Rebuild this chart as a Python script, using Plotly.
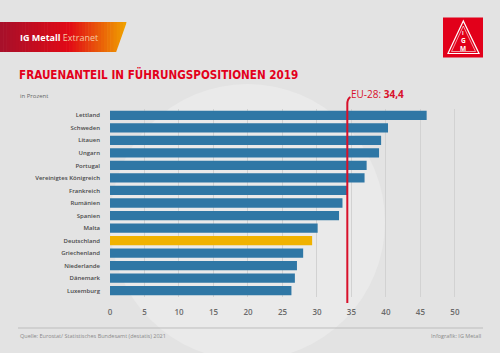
import plotly.graph_objects as go

countries = ["Lettland", "Schweden", "Litauen", "Ungarn", "Portugal", "Vereinigtes Königreich",
             "Frankreich", "Rumänien", "Spanien", "Malta", "Deutschland", "Griechenland",
             "Niederlande", "Dänemark", "Luxemburg"]
values = [45.9, 40.3, 39.3, 39.0, 37.2, 36.9, 34.4, 33.7, 33.2, 30.1, 29.3, 28.0, 27.1, 26.8, 26.3]
eu_value = 34.4
eu_label = "EU-28: "
x_ticks = [0, 5, 10, 15, 20, 25, 30, 35, 40, 45, 50]
highlight = "Deutschland"

W, H = 500, 353
L, R, T, B = 110, 43, 109, 56
PW, PH = W - L - R, H - T - B


def px(x):
    return (x - L) / PW


def py(y):
    return (H - B - y) / PH


BLUE = "#2f77a5"
GOLD = "#f0b200"
RED = "#e2001a"

colors = [GOLD if c == highlight else BLUE for c in countries]

fig = go.Figure()
fig.add_trace(go.Bar(
    x=values, y=countries, orientation="h",
    marker=dict(color=colors, line=dict(width=0)),
    hoverinfo="x+y",
))

shapes = []
# soft whitish circle in background
shapes.append(dict(type="circle", xref="paper", yref="paper", layer="below",
                   x0=px(110), x1=px(385), y0=py(360), y1=py(84),
                   fillcolor="#eaeaea", line=dict(width=0)))
# header gradient band (strips)
n = 40
c0 = (168, 16, 42)
c1 = (226, 10, 22)
c2 = (240, 160, 0)
x_start, x_end = 0, 126
for i in range(n):
    t = i / (n - 1)
    if t < 0.55:
        u = t / 0.55
        col = tuple(int(c0[k] + (c1[k] - c0[k]) * u) for k in range(3))
    else:
        u = (t - 0.55) / 0.45
        col = tuple(int(c1[k] + (c2[k] - c1[k]) * u) for k in range(3))
    xa = x_start + (x_end - x_start) * i / n
    xb = x_start + (x_end - x_start) * (i + 1) / n + 0.6
    shapes.append(dict(type="rect", xref="paper", yref="paper", layer="above",
                       x0=px(xa), x1=px(xb), y0=py(52), y1=py(22),
                       fillcolor="rgb(%d,%d,%d)" % col, line=dict(width=0)))
# slanted right edge: cover with background triangle
shapes.append(dict(type="path", xref="paper", yref="paper", layer="above",
                   path="M %f %f L %f %f L %f %f Z" % (px(116), py(52.5), px(127), py(52.5), px(127), py(21.5)),
                   fillcolor="#e3e3e3", line=dict(width=0)))
# logo square
shapes.append(dict(type="rect", xref="paper", yref="paper", layer="above",
                   x0=px(443), x1=px(483), y0=py(57.5), y1=py(17.5),
                   fillcolor=RED, line=dict(width=0)))
shapes.append(dict(type="path", xref="paper", yref="paper", layer="above",
                   path="M %f %f L %f %f L %f %f Z" % (px(463.3), py(21), px(448), py(53.5), px(479), py(53.5)),
                   fillcolor="rgba(0,0,0,0)", line=dict(color="white", width=1.2)))
shapes.append(dict(type="path", xref="paper", yref="paper", layer="above",
                   path="M %f %f L %f %f L %f %f Z" % (px(463.3), py(26), px(451.5), py(51.5), px(475.5), py(51.5)),
                   fillcolor="rgba(0,0,0,0)", line=dict(color="white", width=0.6)))
# footer line
shapes.append(dict(type="line", xref="paper", yref="paper", layer="above",
                   x0=px(18), x1=px(483), y0=py(328), y1=py(328),
                   line=dict(color="#bdbdbd", width=1)))
# EU line with curved top
y_bot = py(303)
y_top_v = py(104)
y_curve = py(99)
shapes.append(dict(type="path", xref="x", yref="paper", layer="above",
                   path="M %f %f L %f %f Q %f %f %f %f" % (
                       eu_value, y_bot, eu_value, y_top_v, eu_value, y_curve, eu_value + 0.45, py(97)),
                   line=dict(color="#d8102a", width=2)))

TITLE_FONT = "DejaVu Sans Condensed, Roboto, sans-serif"

annotations = [
    dict(text="<b>IG Metall</b> <span style='color:#f6c9a0'>Extranet</span>", xref="paper", yref="paper",
         x=px(18), y=py(37.5), xanchor="left", yanchor="middle", showarrow=False,
         font=dict(family="Open Sans", size=9, color="white")),
    dict(text="<b>FRAUENANTEIL IN FÜHRUNGSPOSITIONEN 2019</b>", xref="paper", yref="paper",
         x=px(17), y=py(75), xanchor="left", yanchor="middle", showarrow=False,
         font=dict(family=TITLE_FONT, size=11.6, color="#e3001b")),
    dict(text="in Prozent", xref="paper", yref="paper",
         x=px(18), y=py(96), xanchor="left", yanchor="middle", showarrow=False,
         font=dict(family="Open Sans", size=6, color="#666666")),
    dict(text=eu_label + "<b>" + str(eu_value).replace(".", ",") + "</b>", xref="x", yref="paper",
         x=eu_value + 0.3, y=py(93.5), xanchor="left", yanchor="middle", showarrow=False,
         font=dict(family="Open Sans", size=10, color="#d8102a")),
    dict(text="Quelle: Eurostat/ Statistisches Bundesamt (destatis) 2021", xref="paper", yref="paper",
         x=px(18), y=py(336), xanchor="left", yanchor="middle", showarrow=False,
         font=dict(family="Open Sans", size=5.5, color="#8a8a8a")),
    dict(text="Infografik: IG Metall", xref="paper", yref="paper",
         x=px(483), y=py(336), xanchor="right", yanchor="middle", showarrow=False,
         font=dict(family="Open Sans", size=5.5, color="#8a8a8a")),
    dict(text="<b>I</b>", xref="paper", yref="paper", x=px(463.3), y=py(33), showarrow=False,
         xanchor="center", yanchor="middle", font=dict(family="Open Sans", size=5, color="white")),
    dict(text="<b>G</b>", xref="paper", yref="paper", x=px(463.3), y=py(40.5), showarrow=False,
         xanchor="center", yanchor="middle", font=dict(family="Open Sans", size=6.5, color="white")),
    dict(text="<b>M</b>", xref="paper", yref="paper", x=px(463.3), y=py(48.3), showarrow=False,
         xanchor="center", yanchor="middle", font=dict(family="Open Sans", size=6.5, color="white")),
]

fig.update_layout(
    width=W, height=H,
    margin=dict(l=L, r=R, t=T, b=B, pad=0),
    paper_bgcolor="#e3e3e3",
    plot_bgcolor="rgba(0,0,0,0)",
    showlegend=False,
    bargap=0.26,
    shapes=shapes,
    annotations=annotations,
    xaxis=dict(range=[0, 50.3], tickvals=x_ticks, showgrid=True, gridcolor="#d2d2d2", gridwidth=1,
               zeroline=False, showline=False, ticks="",
               tickfont=dict(family="Open Sans", size=8, color="#6a6a6a", weight=600), ticklabelstandoff=9),
    yaxis=dict(categoryorder="array", categoryarray=countries, autorange="reversed",
               showgrid=False, zeroline=False, showline=False, ticks="",
               tickfont=dict(family="Open Sans", size=6, color="#4a4a4a", weight=600), ticklabelstandoff=9),
)

fig.write_html("out.html")
